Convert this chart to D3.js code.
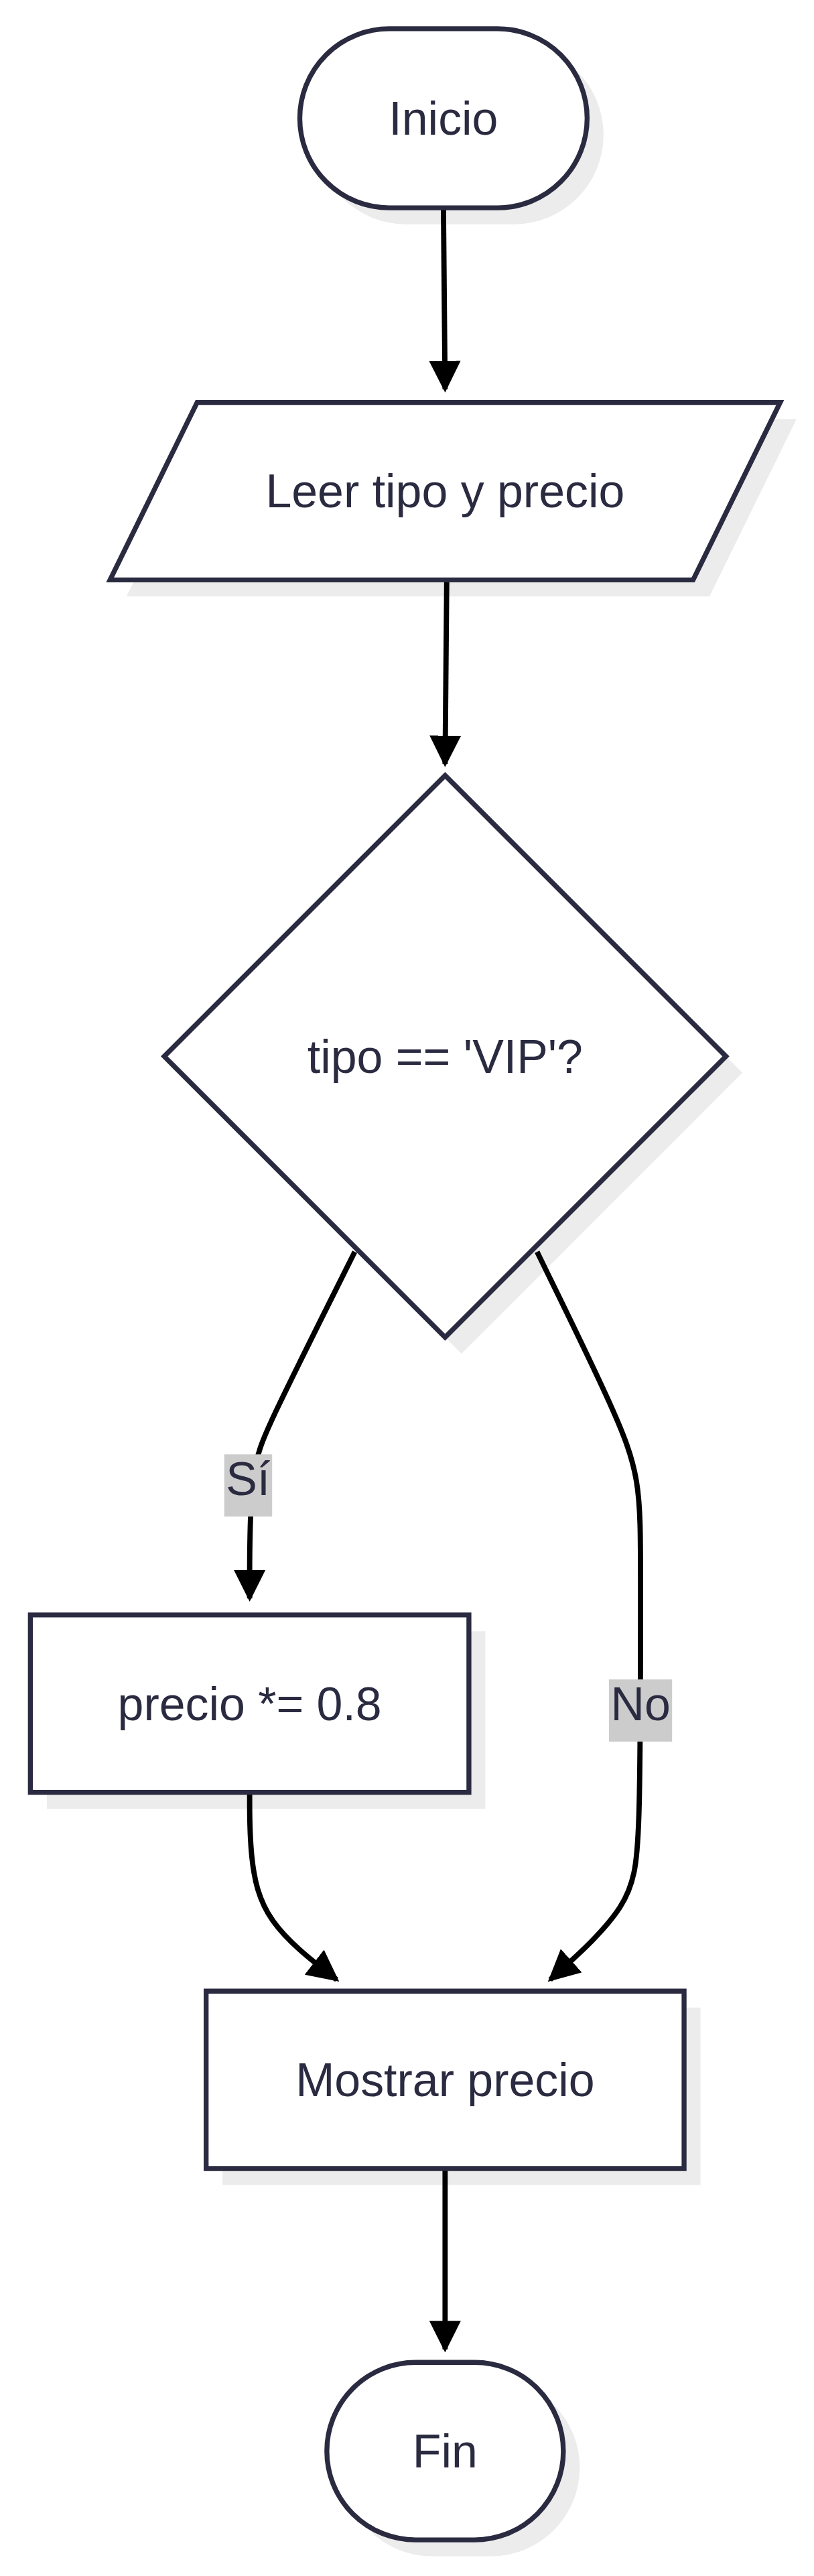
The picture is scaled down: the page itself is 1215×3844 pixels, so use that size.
<!DOCTYPE html>
<html><head><meta charset="utf-8">
<script src="https://cdn.jsdelivr.net/npm/d3@7"></script>
<style>body{margin:0;background:#fff}</style>
</head><body><div id="chart"></div>
<script>
"use strict";
// node texts and edge labels
var nodeLabels = ["Inicio", "Leer tipo y precio", "tipo == 'VIP'?", "precio *= 0.8", "Mostrar precio", "Fin"];
var nodeShapes = ["stadium", "parallelogram", "diamond", "rect", "rect", "stadium"];
var edgeLabels = ["", "", "Sí", "No", "", ""];

// layout (in a 496 x 1568 design space, scaled to the page)
var layout = [
    {cx: 270, cy: 72, w: 175, h: 109},
    {cx: 271, cy: 299, w: 408, h: 108, skew: 53},
    {cx: 271, cy: 643, w: 342, h: 342},
    {cx: 152, cy: 1037, w: 267, h: 108},
    {cx: 271, cy: 1266, w: 291, h: 108},
    {cx: 271, cy: 1492, w: 144, h: 108}
];
var edgePaths = [
    [[270, 127], [271, 237]],
    [[272, 353], [271, 465]],
    [[216, 762], [163, 868], [152, 895], [152, 973]],
    [[327, 762], [375, 860], [390, 900], [390, 950], [390, 1120], [385, 1160], [335, 1205]],
    [[152, 1091], [152, 1130], [160, 1170], [205, 1205]],
    [[271, 1320], [271, 1430]]
];
var labelPos = [null, null, [151, 900], [390, 1037], null, null];

var W = 1215, H = 3844, S = H / 1568;
var ink = "#2a2a40";
var svg = d3.select("#chart").append("svg").attr("width", W).attr("height", H);
var defs = svg.append("defs");
defs.append("marker").attr("id", "arr").attr("viewBox", "0 0 10 10")
    .attr("refX", 9).attr("refY", 5).attr("markerWidth", 6).attr("markerHeight", 6)
    .attr("markerUnits", "strokeWidth").attr("orient", "auto")
    .append("path").attr("d", "M0,0L10,5L0,10z").attr("fill", "#000");

var g = svg.append("g").attr("transform", "scale(" + S + ")");

function shapePath(n, shape) {
    var x0 = n.cx - n.w / 2, x1 = n.cx + n.w / 2, y0 = n.cy - n.h / 2, y1 = n.cy + n.h / 2, r = n.h / 2;
    if (shape === "stadium")
        return "M" + (x0 + r) + "," + y0 + "H" + (x1 - r) + "A" + r + "," + r + " 0 0 1 " + (x1 - r) + "," + y1 +
            "H" + (x0 + r) + "A" + r + "," + r + " 0 0 1 " + (x0 + r) + "," + y0 + "Z";
    if (shape === "parallelogram")
        return "M" + (x0 + n.skew) + "," + y0 + "H" + x1 + "L" + (x1 - n.skew) + "," + y1 + "H" + x0 + "Z";
    if (shape === "diamond")
        return "M" + n.cx + "," + y0 + "L" + x1 + "," + n.cy + "L" + n.cx + "," + y1 + "L" + x0 + "," + n.cy + "Z";
    return "M" + x0 + "," + y0 + "H" + x1 + "V" + y1 + "H" + x0 + "Z";
}

var nodes = layout.map(function (d, i) { return Object.assign({label: nodeLabels[i], shape: nodeShapes[i]}, d); });

// shadows
g.selectAll("path.shadow").data(nodes).enter().append("path")
    .attr("class", "shadow").attr("d", function (d) { return shapePath(d, d.shape); })
    .attr("transform", "translate(10,10)").attr("fill", "#ececec");

// edges
var line = d3.line().curve(d3.curveBasis);
g.selectAll("path.edge").data(edgePaths).enter().append("path")
    .attr("class", "edge").attr("d", line).attr("fill", "none")
    .attr("stroke", "#000").attr("stroke-width", 3.2).attr("marker-end", "url(#arr)");

// nodes
var ng = g.selectAll("g.node").data(nodes).enter().append("g").attr("class", "node");
ng.append("path").attr("d", function (d) { return shapePath(d, d.shape); })
    .attr("fill", "#fff").attr("stroke", ink).attr("stroke-width", 3);
ng.append("text").attr("x", function (d) { return d.cx; }).attr("y", function (d) { return d.cy; })
    .attr("dy", "0.35em").attr("text-anchor", "middle")
    .attr("font-family", "Liberation Sans, Arial, sans-serif").attr("font-size", 28.5)
    .attr("fill", ink).text(function (d) { return d.label; });

// edge labels
edgeLabels.forEach(function (t, i) {
    if (!t) return;
    var p = labelPos[i];
    var lg = g.append("g");
    var txt = lg.append("text").attr("x", p[0]).attr("y", p[1]).attr("dy", "0.35em")
        .attr("text-anchor", "middle").attr("font-family", "Liberation Sans, Arial, sans-serif")
        .attr("font-size", 28.5).attr("fill", ink).text(t);
    var b = txt.node().getBBox();
    lg.insert("rect", "text").attr("x", b.x - 1).attr("y", b.y + 1).attr("width", b.width + 2)
        .attr("height", b.height + 6).attr("fill", "#cccccc");
});
</script></body></html>
